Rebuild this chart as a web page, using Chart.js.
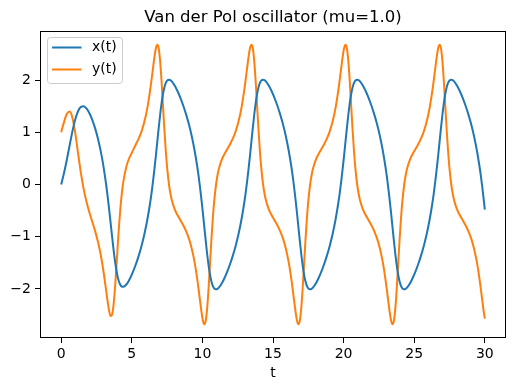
<!DOCTYPE html>
<html>
<head>
<meta charset="utf-8">
<script src="https://cdn.jsdelivr.net/npm/chart.js@4.4.1/dist/chart.umd.min.js"></script>
<style>
  html, body { margin: 0; padding: 0; background: #fff; }
  canvas { display: block; }
</style>
</head>
<body>
<canvas id="myChart" width="515" height="391"></canvas>
<script>
// time samples (denser round the sharp turns)
const t = [
    0, 0.2, 0.4, 0.6, 0.8, 1, 1.2, 1.4, 1.6, 1.8, 2, 2.2, 2.4, 2.6, 2.8, 3, 3.2, 3.3, 3.4, 3.5, 3.6, 3.7, 3.8, 3.9, 4, 4.1, 4.2, 4.3, 4.4, 4.6, 4.8, 5,
    5.303, 5.503, 5.703, 5.903, 6.103, 6.303, 6.403, 6.503, 6.603, 6.703, 6.803, 6.903, 7.003, 7.103, 7.203, 7.303, 7.403, 7.503,
    7.635, 7.735, 7.835, 8.035, 8.235, 8.435, 8.635, 8.835, 9.035, 9.235, 9.435, 9.635, 9.735, 9.835, 9.935, 10.035, 10.135, 10.235, 10.335, 10.435, 10.535, 10.635, 10.735, 10.835,
    10.967, 11.067, 11.167, 11.367, 11.567, 11.767, 11.967, 12.167, 12.367, 12.567, 12.767, 12.967, 13.067, 13.167, 13.267, 13.367, 13.467, 13.567, 13.667, 13.767, 13.867, 13.967, 14.067, 14.167,
    14.298, 14.398, 14.498, 14.698, 14.898, 15.098, 15.298, 15.498, 15.698, 15.898, 16.098, 16.298, 16.398, 16.498, 16.598, 16.698, 16.798, 16.898, 16.998, 17.098, 17.198, 17.298, 17.398, 17.498,
    17.630, 17.730, 17.830, 18.030, 18.230, 18.430, 18.630, 18.830, 19.030, 19.230, 19.430, 19.630, 19.730, 19.830, 19.930, 20.030, 20.130, 20.230, 20.330, 20.430, 20.530, 20.630, 20.730, 20.830,
    20.961, 21.061, 21.161, 21.361, 21.561, 21.761, 21.961, 22.161, 22.361, 22.561, 22.761, 22.961, 23.061, 23.161, 23.261, 23.361, 23.461, 23.561, 23.661, 23.761, 23.861, 23.961, 24.061, 24.161,
    24.293, 24.393, 24.493, 24.693, 24.893, 25.093, 25.293, 25.493, 25.693, 25.893, 26.093, 26.293, 26.393, 26.493, 26.593, 26.693, 26.793, 26.893, 26.993, 27.093, 27.193, 27.293, 27.393, 27.493,
    27.625, 27.725, 27.825, 28.025, 28.225, 28.425, 28.625, 28.825, 29.025, 29.225, 29.425, 29.625, 29.725, 29.825, 29.925, 30
];

const xt = [
    0, 0.2198, 0.4753, 0.7524, 1.0227, 1.2506, 1.4082, 1.4878, 1.4979, 1.4528, 1.3643, 1.2393, 1.0797, 0.8823, 0.6395, 0.3391, -0.0336, -0.25, -0.4845, -0.7326, -0.9843, -1.2268, -1.4457, -1.6284, -1.769, -1.8668, -1.927, -1.9559, -1.9607, -1.9202, -1.8368, -1.7261,
    -1.5181, -1.3523, -1.1614, -0.9382, -0.6712, -0.3448, -0.1536, 0.0586, 0.2924, 0.5449, 0.81, 1.0755, 1.3261, 1.546, 1.7232, 1.8539, 1.9399, 1.9885,
    2.0086, 1.9995, 1.9754, 1.8966, 1.7903, 1.6636, 1.5181, 1.3523, 1.1614, 0.9382, 0.6712, 0.3448, 0.1536, -0.0586, -0.2924, -0.5449, -0.81, -1.0755, -1.3261, -1.546, -1.7232, -1.8539, -1.9399, -1.9885,
    -2.0086, -1.9995, -1.9754, -1.8966, -1.7903, -1.6636, -1.5181, -1.3523, -1.1614, -0.9382, -0.6712, -0.3448, -0.1536, 0.0586, 0.2924, 0.5449, 0.81, 1.0755, 1.3261, 1.546, 1.7232, 1.8539, 1.9399, 1.9885,
    2.0086, 1.9995, 1.9754, 1.8966, 1.7903, 1.6636, 1.5181, 1.3523, 1.1614, 0.9382, 0.6712, 0.3448, 0.1536, -0.0586, -0.2924, -0.5449, -0.81, -1.0755, -1.3261, -1.546, -1.7232, -1.8539, -1.9399, -1.9885,
    -2.0086, -1.9995, -1.9754, -1.8966, -1.7903, -1.6636, -1.5181, -1.3523, -1.1614, -0.9382, -0.6712, -0.3448, -0.1536, 0.0586, 0.2924, 0.5449, 0.81, 1.0755, 1.3261, 1.546, 1.7232, 1.8539, 1.9399, 1.9885,
    2.0086, 1.9995, 1.9754, 1.8966, 1.7903, 1.6636, 1.5181, 1.3523, 1.1614, 0.9382, 0.6712, 0.3448, 0.1536, -0.0586, -0.2924, -0.5449, -0.81, -1.0755, -1.3261, -1.546, -1.7232, -1.8539, -1.9399, -1.9885,
    -2.0086, -1.9995, -1.9754, -1.8966, -1.7903, -1.6636, -1.5181, -1.3523, -1.1614, -0.9382, -0.6712, -0.3448, -0.1536, 0.0586, 0.2924, 0.5449, 0.81, 1.0755, 1.3261, 1.546, 1.7232, 1.8539, 1.9399, 1.9885,
    2.0086, 1.9995, 1.9754, 1.8966, 1.7903, 1.6636, 1.5181, 1.3523, 1.1614, 0.9382, 0.6712, 0.3448, 0.1536, -0.0586, -0.2924, -0.4803
];

const yt = [
    1, 1.1949, 1.3492, 1.3975, 1.2754, 0.9795, 0.5909, 0.2128, -0.0992, -0.342, -0.5372, -0.7111, -0.8883, -1.0919, -1.346, -1.6711, -2.0626, -2.2602, -2.425, -2.5188, -2.4986, -2.3311, -2.0261, -1.6222, -1.1862, -0.7796, -0.4327, -0.1587, 0.051, 0.3277, 0.493, 0.609,
    0.7757, 0.8869, 1.0276, 1.2144, 1.4687, 1.8107, 2.0149, 2.2303, 2.4389, 2.6037, 2.676, 2.6121, 2.3776, 2.001, 1.5405, 1.0729, 0.6606, 0.3244,
    0, -0.1729, -0.3006, -0.4718, -0.5857, -0.6801, -0.7757, -0.8869, -1.0276, -1.2144, -1.4687, -1.8107, -2.0149, -2.2303, -2.4389, -2.6037, -2.676, -2.6121, -2.3776, -2.001, -1.5405, -1.0729, -0.6606, -0.3244,
    0, 0.1729, 0.3006, 0.4718, 0.5857, 0.6801, 0.7757, 0.8869, 1.0276, 1.2144, 1.4687, 1.8107, 2.0149, 2.2303, 2.4389, 2.6037, 2.676, 2.6121, 2.3776, 2.001, 1.5405, 1.0729, 0.6606, 0.3244,
    0, -0.1729, -0.3006, -0.4718, -0.5857, -0.6801, -0.7757, -0.8869, -1.0276, -1.2144, -1.4687, -1.8107, -2.0149, -2.2303, -2.4389, -2.6037, -2.676, -2.6121, -2.3776, -2.001, -1.5405, -1.0729, -0.6606, -0.3244,
    0, 0.1729, 0.3006, 0.4718, 0.5857, 0.6801, 0.7757, 0.8869, 1.0276, 1.2144, 1.4687, 1.8107, 2.0149, 2.2303, 2.4389, 2.6037, 2.676, 2.6121, 2.3776, 2.001, 1.5405, 1.0729, 0.6606, 0.3244,
    0, -0.1729, -0.3006, -0.4718, -0.5857, -0.6801, -0.7757, -0.8869, -1.0276, -1.2144, -1.4687, -1.8107, -2.0149, -2.2303, -2.4389, -2.6037, -2.676, -2.6121, -2.3776, -2.001, -1.5405, -1.0729, -0.6606, -0.3244,
    0, 0.1729, 0.3006, 0.4718, 0.5857, 0.6801, 0.7757, 0.8869, 1.0276, 1.2144, 1.4687, 1.8107, 2.0149, 2.2303, 2.4389, 2.6037, 2.676, 2.6121, 2.3776, 2.001, 1.5405, 1.0729, 0.6606, 0.3244,
    0, -0.1729, -0.3006, -0.4718, -0.5857, -0.6801, -0.7757, -0.8869, -1.0276, -1.2144, -1.4687, -1.8107, -2.0149, -2.2303, -2.4389, -2.569
];

const titleText = 'Van der Pol oscillator (mu=1.0)';
const seriesLabels = ['x(t)', 'y(t)'];
const seriesColors = ['#1f77b4', '#ff7f0e'];
const xTicks = [0, 5, 10, 15, 20, 25, 30];
const yTicks = [-2, -1, 0, 1, 2];

const FONT = "'DejaVu Sans', sans-serif";

// frame, title over the axes and a matplotlib style legend box
const framePlugin = {
    id: 'frame',
    afterDatasetsDraw(chart) {
        const ctx = chart.ctx;
        const a = chart.chartArea;
        ctx.save();
        ctx.strokeStyle = '#000';
        ctx.lineWidth = 1;
        ctx.strokeRect(Math.round(a.left) + 0.5, Math.round(a.top) + 0.5,
            Math.round(a.right - a.left) - 1, Math.round(a.bottom - a.top) - 1);

        // title, centred on the axes like matplotlib
        ctx.fillStyle = '#000';
        ctx.font = '16.5px ' + FONT;
        ctx.textAlign = 'center';
        ctx.textBaseline = 'middle';
        ctx.fillText(titleText, (a.left + a.right) / 2, 17.5);

        // legend
        const bx = Math.round(a.left) + 7.5, by = Math.round(a.top) + 6.5;
        const bw = 75, bh = 46, r = 3;
        ctx.beginPath();
        ctx.moveTo(bx + r, by);
        ctx.arcTo(bx + bw, by, bx + bw, by + bh, r);
        ctx.arcTo(bx + bw, by + bh, bx, by + bh, r);
        ctx.arcTo(bx, by + bh, bx, by, r);
        ctx.arcTo(bx, by, bx + bw, by, r);
        ctx.closePath();
        ctx.fillStyle = 'rgba(255,255,255,0.8)';
        ctx.fill();
        ctx.strokeStyle = '#cccccc';
        ctx.stroke();

        chart.data.datasets.forEach((ds, i) => {
            const ly = by + 10 + i * 22;
            ctx.beginPath();
            ctx.moveTo(bx + 4.5, ly);
            ctx.lineTo(bx + 34, ly);
            ctx.strokeStyle = ds.borderColor;
            ctx.lineWidth = 2;
            ctx.stroke();
            ctx.fillStyle = '#000';
            ctx.font = '14px ' + FONT;
            ctx.textBaseline = 'middle';
            ctx.textAlign = 'left';
            ctx.fillText(ds.label, bx + 44.5, ly);
        });
        ctx.restore();
    }
};

const ctx = document.getElementById('myChart').getContext('2d');
const myChart = new Chart(ctx, {
    type: 'line',
    data: {
        datasets: [
            {
                label: seriesLabels[0],
                data: t.map((v, i) => ({x: v, y: xt[i]})),
                borderColor: seriesColors[0],
                borderWidth: 2,
                pointRadius: 0,
                cubicInterpolationMode: 'monotone',
                fill: false
            },
            {
                label: seriesLabels[1],
                data: t.map((v, i) => ({x: v, y: yt[i]})),
                borderColor: seriesColors[1],
                borderWidth: 2,
                pointRadius: 0,
                cubicInterpolationMode: 'monotone',
                fill: false
            }
        ]
    },
    options: {
        responsive: false,
        animation: false,
        devicePixelRatio: 1,
        layout: {padding: {left: 0, right: 9, top: 31, bottom: 0}},
        plugins: {
            legend: {display: false},
            tooltip: {enabled: false},
            title: {display: false}
        },
        scales: {
            x: {
                type: 'linear',
                min: -1.5,
                max: 31.5,
                afterBuildTicks: scale => { scale.ticks = xTicks.map(v => ({value: v})); },
                afterFit: scale => { scale.height = 53; },
                ticks: {color: '#000', font: {family: FONT, size: 14}, padding: 3, maxRotation: 0},
                grid: {drawOnChartArea: false, drawTicks: true, tickLength: 5, color: '#000'},
                border: {display: false},
                title: {
                    display: true,
                    text: 't',
                    color: '#000',
                    font: {family: FONT, size: 14, lineHeight: 1.2},
                    padding: {top: 0, bottom: 9}
                }
            },
            y: {
                type: 'linear',
                min: -2.94,
                max: 2.94,
                afterBuildTicks: scale => { scale.ticks = yTicks.map(v => ({value: v})); },
                afterFit: scale => { scale.width = 40; },
                ticks: {
                    color: '#000',
                    font: {family: FONT, size: 14},
                    padding: 4,
                    callback: v => String(v).replace('-', '\u2212')
                },
                grid: {drawOnChartArea: false, drawTicks: true, tickLength: 5, color: '#000'},
                border: {display: false}
            }
        }
    },
    plugins: [framePlugin]
});
</script>
</body>
</html>
